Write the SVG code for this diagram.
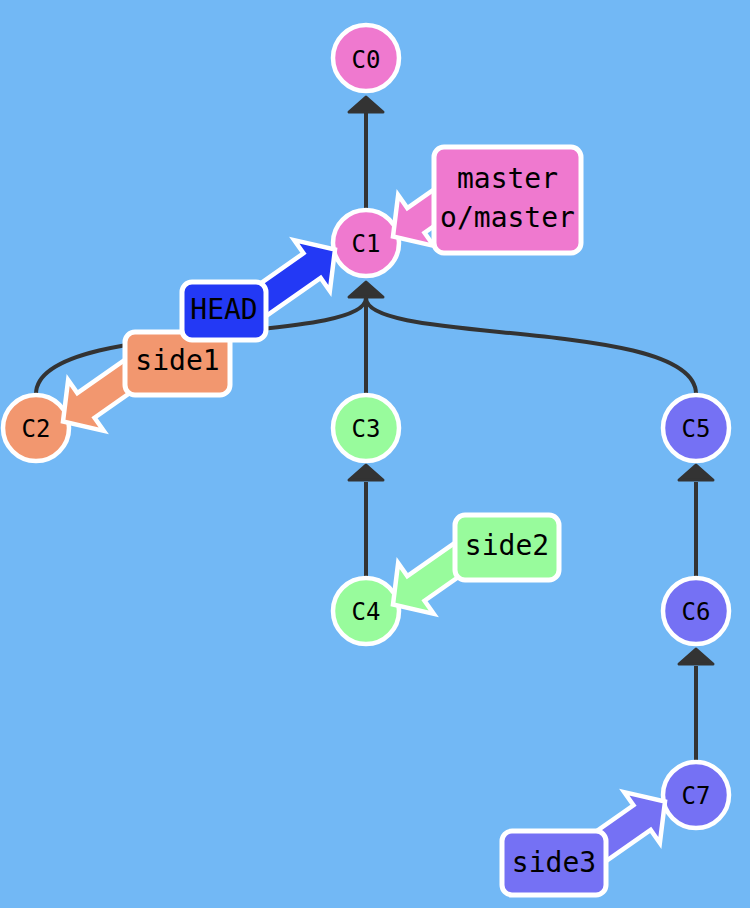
<svg xmlns="http://www.w3.org/2000/svg" xmlns:xlink="http://www.w3.org/1999/xlink" width="750" height="908" viewBox="0 0 750 908">
<style>
.edge{fill:none;stroke:#333333;stroke-width:4}
.head{fill:#333333;stroke:#333333;stroke-width:3;stroke-linejoin:round}
.commit circle{stroke:#ffffff;stroke-width:4.5}
.commit text{font-family:"DejaVu Sans Mono","Liberation Mono",monospace;font-size:24px;fill:#000;text-anchor:middle}
.ptr{stroke:#ffffff;stroke-width:4.5;stroke-linejoin:miter}
.lbl rect{stroke:#ffffff;stroke-width:5}
.lbl text{font-family:"DejaVu Sans Mono","Liberation Mono",monospace;font-size:28px;fill:#000;text-anchor:middle}
.pink{fill:#ef79cf}.orange{fill:#f2976f}.green{fill:#98fb9c}.purple{fill:#7571f4}.blue{fill:#2339f5}
</style>
<defs>
<path id="arrowA" d="M27,-6.5 L32.14,-47.96 L41.32,-34.86 L116.67,-87.67 L133.89,-63.09 L58.54,-10.28 L67.72,2.82 Z"/>
<path id="arrowB" d="M-31,6.5 L-36.14,47.96 L-45.32,34.86 L-120.67,87.67 L-137.89,63.09 L-62.54,10.28 L-71.72,-2.82 Z"/>
<polygon id="ah" points="0,0 -17,15 17,15"/>
</defs>
<rect x="0" y="0" width="750" height="908" fill="#72b8f5"/>
<g id="connectors">
<line class="edge" x1="366" y1="210" x2="366" y2="112"/>
<use href="#ah" class="head" transform="translate(366,97)"/>
<path class="edge" d="M36,394 C36,318 366,345 366,298"/>
<path class="edge" d="M696,394 C696,318 366,345 366,298"/>
<line class="edge" x1="366" y1="394" x2="366" y2="298"/>
<use href="#ah" class="head" transform="translate(366,282)"/>
<line class="edge" x1="366" y1="578" x2="366" y2="482"/>
<use href="#ah" class="head" transform="translate(366,465)"/>
<line class="edge" x1="696" y1="578" x2="696" y2="482"/>
<use href="#ah" class="head" transform="translate(696,465)"/>
<line class="edge" x1="696" y1="762" x2="696" y2="666"/>
<use href="#ah" class="head" transform="translate(696,649)"/>
</g>
<g id="C0" class="commit"><circle class="pink" cx="366" cy="58" r="33"/><text x="366" y="68">C0</text></g>
<g id="C1" class="commit"><circle class="pink" cx="366" cy="243" r="33"/><text x="366" y="252">C1</text></g>
<g id="C2" class="commit"><circle class="orange" cx="36" cy="428" r="33"/><text x="36" y="437">C2</text></g>
<g id="C3" class="commit"><circle class="green" cx="366" cy="428" r="33"/><text x="366" y="437">C3</text></g>
<g id="C4" class="commit"><circle class="green" cx="366" cy="611" r="33"/><text x="366" y="620">C4</text></g>
<g id="C5" class="commit"><circle class="purple" cx="696" cy="428" r="33"/><text x="696" y="437">C5</text></g>
<g id="C6" class="commit"><circle class="purple" cx="696" cy="611" r="33"/><text x="696" y="620">C6</text></g>
<g id="C7" class="commit"><circle class="purple" cx="696" cy="795" r="33"/><text x="696" y="804">C7</text></g>
<g id="master" class="lbl">
<use href="#arrowA" class="ptr pink" transform="translate(366,243)"/>
<rect class="pink" x="434" y="147" width="147" height="106" rx="10"/>
<text x="507.5" y="188">master</text>
<text x="507.5" y="227">o/master</text>
</g>
<g id="side1" class="lbl">
<use href="#arrowA" class="ptr orange" transform="translate(36,428)"/>
<rect class="orange" x="125" y="332" width="105" height="63" rx="10"/>
<text x="177.5" y="370">side1</text>
</g>
<g id="HEAD" class="lbl">
<use href="#arrowB" class="ptr blue" transform="translate(366,243)"/>
<rect class="blue" x="182" y="282" width="84" height="58" rx="10"/>
<text x="224" y="319">HEAD</text>
</g>
<g id="side2" class="lbl">
<use href="#arrowA" class="ptr green" transform="translate(366,611)"/>
<rect class="green" x="455" y="515" width="104" height="65" rx="10"/>
<text x="507" y="555">side2</text>
</g>
<g id="side3" class="lbl">
<use href="#arrowB" class="ptr purple" transform="translate(696,795)"/>
<rect class="purple" x="502" y="831" width="104" height="64" rx="10"/>
<text x="554" y="872">side3</text>
</g>
</svg>
